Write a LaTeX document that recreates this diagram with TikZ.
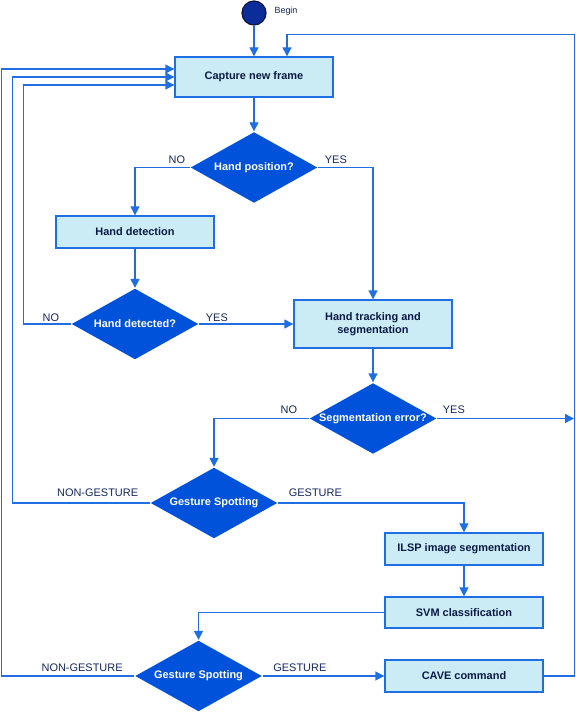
\documentclass[tikz,border=0pt]{standalone}
\usepackage{fontspec}
\setmainfont{Liberation Sans}
\usepackage{tikz}
\usetikzlibrary{arrows.meta}
\usetikzlibrary{positioning}
\usetikzlibrary{shapes.geometric}
\usetikzlibrary{calc}

\definecolor{linecol}{HTML}{1F6FE3}
\definecolor{boxfill}{HTML}{CBECF5}
\definecolor{boxtext}{HTML}{0B1A45}
\definecolor{labeltext}{HTML}{15275C}
\definecolor{diafill}{HTML}{0052DB}
\definecolor{beginfill}{HTML}{0C2C9A}
\definecolor{beginline}{HTML}{0A1840}

\begin{document}
\begin{tikzpicture}[->,>={Triangle[length=9bp,width=9bp]},x=1bp,y=-1bp,line width=1.4bp,
    process/.style={rectangle,draw=linecol,fill=boxfill,text=boxtext,
        font=\bfseries\fontsize{11}{13}\selectfont,minimum width=158bp,minimum height=32bp,align=center},
    decision/.style={diamond,aspect=1.8,fill=diafill,text=white,
        font=\bfseries\fontsize{11}{13}\selectfont,inner sep=0pt,minimum width=127bp,minimum height=71bp},
    begin node/.style={circle,draw=beginline,fill=beginfill,line width=1.2bp,minimum size=24bp,inner sep=0pt},
    answer/.style={text=labeltext,font=\fontsize{11}{13}\selectfont,inner sep=0pt},
    link/.style={draw=linecol}]
    \useasboundingbox (0,0) rectangle (576,713);

    \node[begin node] (begin) at (254,13) {};
    \node[answer,font=\fontsize{9}{11}\selectfont] (beginlbl) at (286,11) {Begin};
    \node[process,minimum height=40bp] (capture) at (254,77) {Capture new frame};
    \node[decision] (handpos) at (254,167.5) {Hand position?};
    \node[process] (detect) at (135,232) {Hand detection};
    \node[decision] (detected) at (135,324) {Hand detected?};
    \node[process,minimum height=48bp] (track) at (373,324) {Hand tracking and\\segmentation};
    \node[decision] (segerr) at (373,418.5) {Segmentation error?};
    \node[decision] (spot1) at (214,503) {Gesture Spotting};
    \node[process] (ilsp) at (464,549) {ILSP image segmentation};
    \node[process,minimum height=31bp] (svm) at (464,612.5) {SVM classification};
    \node[decision] (spot2) at (198.5,676) {Gesture Spotting};
    \node[process] (cave) at (464,676) {CAVE command};
    \coordinate (rightside) at (574,418.5);

    % main flow
    \draw[link] (begin) -- (capture);
    \draw[link] (capture) -- (handpos);
    \draw[link] (handpos.west) node[answer,above left=3bp and 4bp] {NO} -| (detect);
    \draw[link] (handpos.east) node[answer,above right=3bp and 6bp] {YES} -| (track);
    \draw[link] (detect) -- (detected);
    \draw[link] (detected.east) node[answer,above right=2bp and 6bp] {YES} -- (track.west);
    \draw[link] (track) -- (segerr);
    \draw[link] (segerr.west) node[answer,above left=4bp and 11bp] {NO} -| (spot1);
    \draw[link] (segerr.east) node[answer,above right=4bp and 5bp] {YES} -- (rightside);
    \draw[link] (spot1.east) node[answer,above right=6bp and 10bp] {GESTURE} -| (ilsp);
    \draw[link] (ilsp) -- (svm);
    \draw[link] (svm.west) -| (spot2);
    \draw[link] (spot2.east) node[answer,above right=4bp and 10bp] {GESTURE} -- (cave);

    % loops back to capture
    \draw[link] (detected.west) node[answer,above left=2bp and 11bp] {NO}
        -- ++(-47,0) |- ($(capture.west)+(0,8)$);
    \draw[link] (spot1.west) node[answer,above left=6bp and 11bp] {NON-GESTURE}
        -- ++(-137.5,0) |- (capture.west);
    \draw[link] (spot2.west) node[answer,above left=4bp and 11bp] {NON-GESTURE}
        -- ++(-133,0) |- ($(capture.west)+(0,-8)$);
    \draw[link] (cave.east) -- ++(31,0) |- ($(capture.north)+(33,-22)$)
        -- ($(capture.north)+(33,0)$);
\end{tikzpicture}
\end{document}
